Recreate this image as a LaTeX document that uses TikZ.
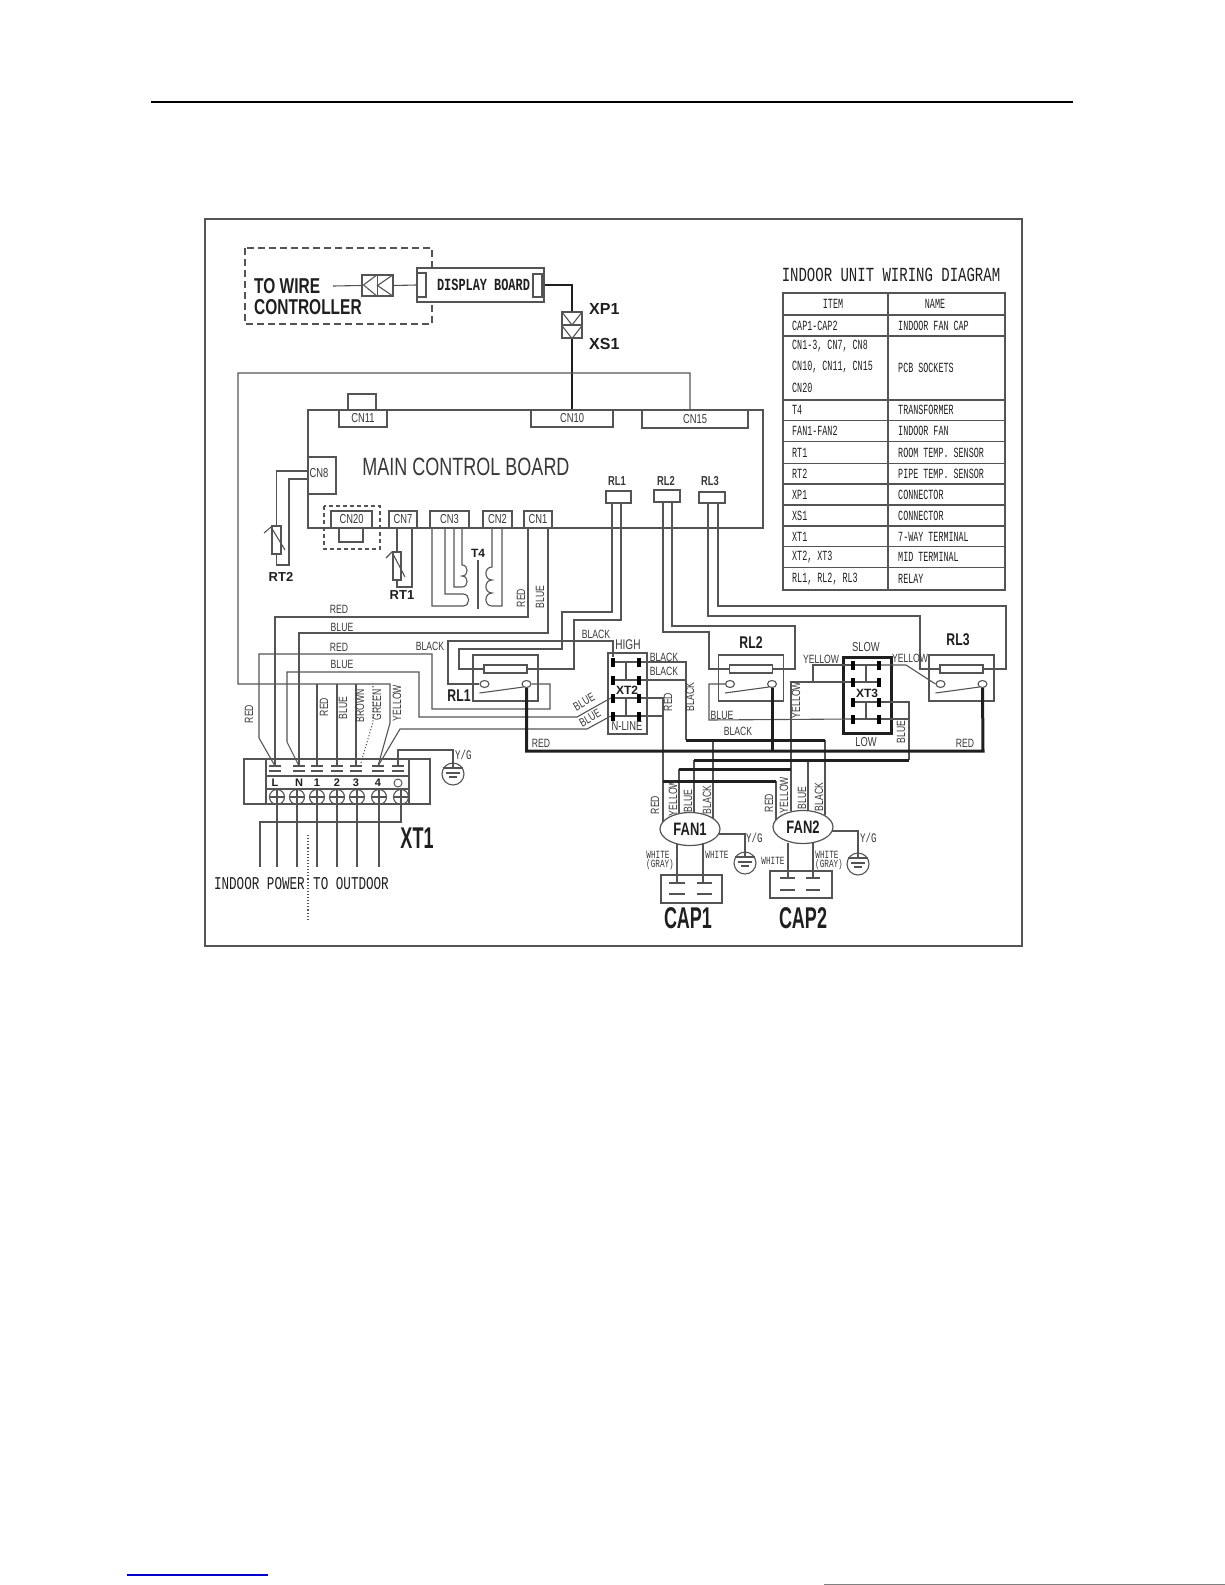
\documentclass[tikz,border=0pt]{standalone}
\usepackage{fontspec}
\usepackage{tikz}
\usepackage{xcolor}
\usetikzlibrary{calc}
\usetikzlibrary{shapes.geometric}
\setmainfont{Liberation Sans}
\newfontfamily\cadsans[FakeStretch=0.72]{Liberation Sans}
\newfontfamily\capsans[FakeStretch=0.6]{Liberation Sans}
\newfontfamily\cadmono[FakeStretch=0.7]{Liberation Mono}
\newfontfamily\tabmono[FakeStretch=0.6]{Liberation Mono}
\newcommand{\fsz}[1]{\fontsize{#1}{#1}\selectfont}
\definecolor{wirecol}{gray}{0.33}
\definecolor{buscol}{gray}{0.12}
\definecolor{txtcol}{gray}{0.22}
\tikzset{
  wire/.style={draw=wirecol,line width=1.1pt},
  bus/.style={draw=buscol,line width=3pt},
  box/.style={draw=wirecol,line width=1.1pt,inner sep=0pt,fill=white,text=txtcol,font=\cadsans\fsz{13}},
  lug/.style={fill=black,inner sep=0pt,minimum width=4pt,minimum height=9pt},
  contact/.style={ellipse,draw=wirecol,line width=1.1pt,fill=white,inner sep=0pt,minimum width=9pt,minimum height=7pt},
  screw/.style={circle,draw=wirecol,line width=1.1pt,inner sep=0pt,minimum size=15pt},
  gndring/.style={circle,draw=wirecol,line width=1.1pt,inner sep=0pt,minimum size=22pt},
  fan/.style={ellipse,draw=wirecol,line width=1.2pt,fill=white,inner sep=0pt,minimum width=60pt,minimum height=33pt,text=buscol,font=\cadsans\bfseries\fsz{18}},
  lbl/.style={inner sep=0pt,text=txtcol,font=\cadsans\fsz{12}},
  lblv/.style={lbl,rotate=90},
  lblw/.style={inner sep=0pt,text=txtcol,font=\cadmono\fsz{11}},
  lblg/.style={inner sep=0pt,anchor=west,text=txtcol,font=\cadmono\fsz{13}},
  lblm/.style={inner sep=0pt,text=buscol,font=\tabmono\fsz{14}},
  lblb/.style={inner sep=0pt,text=buscol,font=\bfseries\fsz{12}},
  lblr/.style={inner sep=0pt,text=buscol,font=\cadsans\bfseries\fsz{17}},
  lblc/.style={inner sep=0pt,text=buscol,font=\capsans\bfseries\fsz{30}},
  gndbars/.pic={
    \draw[wire] (-10,-6) -- (10,-6);
    \draw[wire] (-7,-1) -- (7,-1);
    \draw[wire] (-4,3) -- (4,3);
  }
}
\begin{document}
\begin{tikzpicture}[x=1pt,y=-1pt]
\useasboundingbox (0,0) rectangle (1225,1585);

\draw[black,line width=2pt] (151,102) -- (1073,102);
\draw[wirecol,line width=1.3pt] (205,219) rectangle (1022,946);
\draw[blue!80!black,line width=1.2pt] (127,1575) -- (268,1575);
\draw[gray,line width=1pt] (824,1584.5) -- (1225,1584.5);

\draw[wirecol,line width=1.1pt,dashed,dash pattern=on 7pt off 4pt] (245,248) rectangle (432,324);
\node[inner sep=0pt,anchor=west,text=buscol,font=\cadsans\bfseries\fsz{21.5}] (towire) at (254,286) {TO WIRE};
\node[inner sep=0pt,anchor=west,text=buscol,font=\cadsans\bfseries\fsz{21.5}] (wirectl) at (254,307) {CONTROLLER};
\coordinate (ctlend) at (333,286);
\node[box,minimum width=31pt,minimum height=21pt] (ctlconn) at (377.5,285.5) {};
\draw[wire] (ctlconn.north) -- (ctlconn.south);
\draw[wire] (ctlconn.north) -- ++(-14,10.5) -- (ctlconn.south);
\draw[wire] (ctlconn.north east) -- (ctlconn.center) -- (ctlconn.south east);
\node[box,minimum width=127pt,minimum height=34pt] (dispboard) at (480.5,285) {};
\node[box,minimum width=9pt,minimum height=24pt] (dispin) at (421.5,285) {};
\node[box,minimum width=9pt,minimum height=23pt] (dispout) at (537.5,285.5) {};
\node[inner sep=0pt,text=buscol,font=\cadmono\bfseries\fsz{17}] (disptxt) at (483.5,285) {DISPLAY BOARD};
\draw[wire] (ctlend) -- (ctlconn.west);
\draw[wire] (ctlconn.east) -- (dispin.west);

\node[box,minimum width=20pt,minimum height=26pt] (xpxs) at (572,325) {};
\draw[wire] (xpxs.west) -- (xpxs.east);
\draw[wire] (xpxs.north west) -- (xpxs.center) -- (xpxs.north east);
\draw[wire] (xpxs.west) -- (xpxs.south) -- (xpxs.east);
\node[inner sep=0pt,anchor=west,text=buscol,font=\bfseries\fsz{16}] (xp1) at (589,309) {XP1};
\node[inner sep=0pt,anchor=west,text=buscol,font=\bfseries\fsz{16}] (xs1) at (589,344) {XS1};

\node[box,minimum width=455pt,minimum height=118pt] (mainboard) at (535.5,469) {};
\node[inner sep=0pt,text=txtcol,font=\cadsans\fsz{25}] (boardtxt) at (466,467) {MAIN CONTROL BOARD};
\node[box,minimum width=28pt,minimum height=16pt] (cn11top) at (362,402) {};
\node[box,minimum width=48pt,minimum height=17pt] (cn11) at (363,418.5) {CN11};
\node[box,minimum width=82pt,minimum height=17pt] (cn10) at (572,418.5) {CN10};
\node[box,minimum width=106pt,minimum height=18pt] (cn15) at (695,419) {CN15};
\node[box,minimum width=28pt,minimum height=37pt] (cn8) at (322,475.5) {};
\node[inner sep=0pt,text=txtcol,font=\cadsans\fsz{13}] (cn8txt) at (319,473) {CN8};
\node[box,minimum width=41pt,minimum height=17pt] (cn20) at (351.5,519.5) {CN20};
\node[box,minimum width=24pt,minimum height=14pt] (cn20loop) at (351,535) {};
\draw[wirecol,line width=1.1pt,dashed,dash pattern=on 4pt off 3pt] (324,506) rectangle (380,549);
\node[box,minimum width=28pt,minimum height=17pt] (cn7) at (403,519.5) {CN7};
\node[box,minimum width=39pt,minimum height=17pt] (cn3) at (449.5,519.5) {CN3};
\node[box,minimum width=29pt,minimum height=17pt] (cn2) at (497.5,519.5) {CN2};
\node[box,minimum width=28pt,minimum height=17pt] (cn1) at (538,519.5) {CN1};
\node[box,minimum width=25pt,minimum height=12pt] (conrl1) at (618.5,497) {};
\node[box,minimum width=26pt,minimum height=12pt] (conrl2) at (667,496) {};
\node[box,minimum width=26pt,minimum height=11pt] (conrl3) at (712,497.5) {};
\node[lblb,font=\cadsans\bfseries\fsz{13},text=txtcol] (rl1txt) at (617,481) {RL1};
\node[lblb,font=\cadsans\bfseries\fsz{13},text=txtcol] (rl2txt) at (666,481) {RL2};
\node[lblb,font=\cadsans\bfseries\fsz{13},text=txtcol] (rl3txt) at (710,481) {RL3};
\draw[bus,line width=2.5pt] (dispboard.east) -| (xpxs.north);
\draw[bus,line width=2.5pt] (xpxs.south) -- (cn10.north);

\node[box,minimum width=9pt,minimum height=28pt] (rt2) at (276.5,540) {};
\node[box,minimum width=8pt,minimum height=28pt] (rt1) at (397,566) {};
\coordinate (cn8a) at (308,471);
\coordinate (cn8b) at (308,479);
\coordinate (cn7b) at (412,528);
\draw[wire] (cn8a) -| (rt2.north);
\draw[wire] (rt2.south) |- (289,565) |- (cn8b);
\draw[wire] (264,533) -- (271,527) -- (285,550);
\draw[wire] (cn7.south -| rt1.north) -- (rt1.north);
\draw[wire] (rt1.south) |- (412,587) -- (cn7b);
\draw[wire] (386,558) -- (392,552) -- (405,577);
\node[lblb,font=\bfseries\fsz{13}] (rt2txt) at (281,577) {RT2};
\node[lblb,font=\bfseries\fsz{13}] (rt1txt) at (402,595) {RT1};

\coordinate (cn3a) at (432,528);
\coordinate (cn3b) at (445,528);
\coordinate (cn3c) at (454,528);
\coordinate (cn3d) at (462,528);
\coordinate (cn2a) at (492,528);
\coordinate (cn2b) at (502,528);
\draw[wire] (cn3d) -- (462,565) to[out=0,in=0,looseness=1.6] (462,576) to[out=0,in=0,looseness=1.6] (462,587) -- (454,587) -- (cn3c);
\draw[wire] (cn3b) |- (463,594) to[out=0,in=0,looseness=1.6] (463,606) -| (cn3a);
\draw[wire] (cn2a) -- (492,567) to[out=180,in=180,looseness=1.6] (492,580) to[out=180,in=180,looseness=1.6] (492,593) to[out=180,in=180,looseness=1.6] (492,606) -| (cn2b);
\draw[wire] (478,560) -- (478,609);
\node[lblb] (t4txt) at (478,553) {T4};

\foreach \n/\xx/\sx in {L/275/277,N/299/297,1/317/317,2/337/337,3/356/357,4/378/379,E/398/401} {
  \coordinate (xt1top\n) at (\xx,766);
  \node[screw] (xt1s\n) at (\sx,797) {};
  \draw[wire] (xt1s\n.west) -- (xt1s\n.east);
  \draw[wire] (\xx-6,766) -- (\xx+6,766);
  \draw[wire] (\xx-6,771) -- (\xx+6,771);
}
\node[box,fill=none,minimum width=186pt,minimum height=45pt] (xt1) at (337,781.5) {};
\draw[wire] (266,759) -- (266,804);
\draw[wire] (409,759) -- (409,804);
\draw[wire] (266,776) -- (409,776);
\draw[wire] (266,789) -- (409,789);
\foreach \n/\xx/\tt in {L/275/L,N/299/N,1/317/1,2/337/2,3/356/3,4/378/4} {
  \node[lblb,font=\bfseries\fsz{11}] (xt1txt\n) at (\xx,783) {\tt};
}
\node[circle,draw=wirecol,line width=1pt,inner sep=0pt,minimum size=8pt] (xt1txtE) at (398,783) {};
\foreach \n in {L,N,1,2,3,4} {
  \coordinate (xt1end\n) at (xt1s\n |- 0,867);
  \draw[wire] (xt1s\n.north) -- (xt1end\n);
}
\coordinate (xt1endE) at (260,867);
\draw[wire] (xt1sE.north) -- (xt1sE.south) |- (260,822) -- (xt1endE);
\node[lblc] (xt1lbl) at (417,838) {XT1};
\node[inner sep=0pt,anchor=east,text=buscol,font=\cadmono\fsz{18}] (indoorpw) at (305,884) {INDOOR POWER};
\node[inner sep=0pt,anchor=west,text=buscol,font=\cadmono\fsz{18}] (tooutdoor) at (313,884) {TO OUTDOOR};
\coordinate (splita) at (308,835);
\coordinate (splitb) at (308,920);
\draw[wire,dotted] (splita) -- (splitb);

\node[gndring] (gnd0) at (453,774) {};
\pic at (gnd0) {gndbars};
\draw[wire] (xt1topE) -- (398,750) -| ([yshift=6pt]gnd0.center);
\node[lblg] (yg0) at (455,755) {Y/G};

\coordinate (cn1a) at (528,528);
\coordinate (cn1b) at (548,528);
\draw[wire] (cn1a) |- (275,617) -- (xt1topL);
\draw[wire] (cn1b) |- (299,633) -- (xt1topN);
\coordinate (cn15a) at (690,410);
\coordinate (cn15h) at (238,684);
\draw[wire] (cn15a) |- (238,373) -- (cn15h) -- (390,684) -- (390,723) -- (xt1top4);
\draw[wire] (xt1top1) -- (xt1top1 |- cn15h);
\draw[wire] (xt1top2) -- (xt1top2 |- cn15h);
\draw[wire] (xt1top3) -- (xt1top3 |- cn15h);
\draw[wire,dotted] ([xshift=4pt]xt1top3) -- (373,722) -- (373,684);

\foreach \n/\cx in {1/505.5,2/751,3/961.5} {
  \node[box,minimum width=65pt,minimum height=46pt] (rl\n box) at (\cx,678) {};
  \node[box,minimum width=43pt,minimum height=8pt] (rl\n coil) at (\cx,669) {};
  \node[contact] (rl\n a) at (\cx-21,684) {};
  \node[contact] (rl\n b) at (\cx+21,684) {};
  \draw[wire] (\cx-26,693) -- (\cx+18,687);
}
\node[lblr] (rl1lbl) at (459,696) {RL1};
\node[lblr] (rl2lbl) at (751,643) {RL2};
\node[lblr] (rl3lbl) at (958,640) {RL3};

\node[box,minimum width=39pt,minimum height=81pt] (xt2) at (627.5,693.5) {};
\node[box,line width=3pt,draw=buscol,minimum width=48pt,minimum height=76pt] (xt3) at (867,695) {};
\foreach \r/\yy in {1/662,2/680,3/698,4/716} {
  \node[lug] (xt2l\r) at (613,\yy) {};
  \node[lug] (xt2r\r) at (639,\yy) {};
  \draw[wire] (xt2l\r) -- (xt2r\r);
}
\foreach \r/\yy in {1/665,2/682,3/702,4/719} {
  \node[lug] (xt3l\r) at (853,\yy) {};
  \node[lug] (xt3r\r) at (879,\yy) {};
  \draw[wire] (xt3l\r) -- (xt3r\r);
}
\draw[wire] ($(xt2l1)!0.5!(xt2r1)$) -- ($(xt2l2)!0.5!(xt2r2)$);
\draw[wire] ($(xt2l3)!0.5!(xt2r3)$) -- ($(xt2l4)!0.5!(xt2r4)$);
\draw[wire] ($(xt3l1)!0.5!(xt3r1)$) -- ($(xt3l2)!0.5!(xt3r2)$);
\draw[wire] ($(xt3l3)!0.5!(xt3r3)$) -- ($(xt3l4)!0.5!(xt3r4)$);
\node[lblb,font=\bfseries\fsz{12}] (xt2txt) at (627,690) {XT2};
\node[lblb,font=\bfseries\fsz{12}] (xt3txt) at (867,693) {XT3};
\node[lbl,font=\cadsans\fsz{14}] (hightxt) at (628,645) {HIGH};
\node[lbl,font=\cadsans\fsz{13}] (nline) at (627,726) {N-LINE};
\node[lbl,font=\cadsans\fsz{13}] (slowtxt) at (866,647) {SLOW};
\node[lbl,font=\cadsans\fsz{13}] (lowtxt) at (866,742) {LOW};

\coordinate (rl1p) at (612,503);
\coordinate (rl1q) at (621,503);
\coordinate (rl2p) at (663,502);
\coordinate (rl2q) at (672,502);
\coordinate (rl3p) at (708,503);
\coordinate (rl3q) at (718,503);
\draw[wire] (rl1coil.west) -| (459,649) -| (562,612) -| (rl1p);
\draw[wire] (rl1coil.east) -| (574,620) -| (rl1q);
\draw[wire] (rl2coil.west) -| (709,632) -| (rl2p);
\draw[wire] (rl2coil.east) -| (795,626) -| (rl2q);
\draw[wire] (rl3coil.west) -| (920,616) -| (rl3p);
\draw[wire] (rl3coil.east) -| (1006,606) -| (rl3q);
\draw[wire] (rl1a.west) -| (448,641) -| (xt2l1.north);
\draw[wire] (rl1b.east) -| (550,709) -| (432,654) -| (259,738) -- (xt1topL);
\draw[wire] (xt2l3.west) -- (577,717) -| (419,672) -| (287,742) -- (xt1topN);
\draw[wire] (xt2l4.west) -- (587,729) -- (400,729) -- (xt1top4);
\draw[wire] (rl2a.west) -| (709,720) -- (xt3l4.west);
\draw[wire] (rl3a.west) -- (906,665) -- (xt3r1.east);

\node[fan] (fan1) at (690,829) {FAN1};
\node[fan] (fan2) at (803,827) {FAN2};
\coordinate (f1red) at (663,822);
\coordinate (f1yel) at (679,814);
\coordinate (f1blue) at (694,813);
\coordinate (f1black) at (713,819);
\coordinate (f2red) at (776,820);
\coordinate (f2yel) at (791,811);
\coordinate (f2blue) at (808,810);
\coordinate (f2black) at (825,815);

\coordinate (busBl) at (686,740);
\coordinate (busBm) at (713,740);
\coordinate (busBr) at (825,740);
\coordinate (busCl) at (694,760);
\coordinate (busCm) at (808,760);
\coordinate (busCr) at (909,760);
\coordinate (busDl) at (679,769);
\coordinate (busDr) at (791,769);
\coordinate (busEl) at (663,781);
\coordinate (busEr) at (776,781);
\coordinate (busAr) at (983,751);
\draw[wire] (xt2r1.east) -| (busBl);
\draw[wire] (xt2r2.east) -- (xt2r2 -| busBl);
\draw[wire] (xt2r3.east) -| (f1red);
\draw[wire] (xt2r4.east) -- (xt2r4 -| f1red);
\draw[wire] (xt3r3.east) -| (busCr);
\draw[wire] (xt3r4.east) -- (xt3r4 -| busCr);
\draw[wire] (xt3l2.west) -| (f2yel);
\draw[wire] (xt3l1.west) -| (813,682);
\draw[wire] (busBm) -- (f1black);
\draw[wire] (busBr) -- (f2black);
\draw[wire] (busCl) -- (f1blue);
\draw[wire] (busCm) -- (f2blue);
\draw[wire] (busDl) -- (f1yel);
\draw[wire] (busEr) -- (f2red);
\draw[bus] (rl1b.south) |- (busAr) -- (rl3b.south);
\draw[bus] (rl2b.south) -- (rl2b |- busAr);
\draw[bus] (busBl) -- (busBr);
\draw[bus] (busCl) -- (busCr);
\draw[bus] (busDl) -- (busDr);
\draw[bus] (busEl) -- (busEr);

\node[gndring] (gnd1) at (745,863) {};
\node[gndring] (gnd2) at (858,864) {};
\pic at (gnd1) {gndbars};
\pic at (gnd2) {gndbars};
\coordinate (fan1g) at (719,834);
\coordinate (fan2g) at (832,831);
\draw[wire] (fan1g) -| ([yshift=6pt]gnd1.center);
\draw[wire] (fan2g) -| ([yshift=6pt]gnd2.center);
\node[lblg] (yg1) at (746,838) {Y/G};
\node[lblg] (yg2) at (860,838) {Y/G};

\node[box,minimum width=61pt,minimum height=28pt] (cap1) at (691.5,889) {};
\node[box,minimum width=62pt,minimum height=27pt] (cap2) at (801,884.5) {};
\coordinate (f1wa) at (677,844);
\coordinate (f1wb) at (703,843);
\coordinate (f2wa) at (788,843);
\coordinate (f2wb) at (813,842);
\coordinate (c1a) at (677,883);
\coordinate (c1b) at (703,883);
\coordinate (c2a) at (788,878);
\coordinate (c2b) at (813,878);
\draw[wire] (f1wa) -- (c1a);
\draw[wire] (f1wb) -- (c1b);
\draw[wire] (f2wa) -- (c2a);
\draw[wire] (f2wb) -- (c2b);
\draw[wire] (669,883) -- (685,883);
\draw[wire] (669,894) -- (685,894);
\draw[wire] (697,883) -- (712,883);
\draw[wire] (697,894) -- (712,894);
\draw[wire] (780,878) -- (795,878);
\draw[wire] (780,890) -- (795,890);
\draw[wire] (806,878) -- (820,878);
\draw[wire] (806,890) -- (820,890);
\node[lblc,font=\capsans\bfseries\fsz{30}] (cap1lbl) at (688,918) {CAP1};
\node[lblc,font=\capsans\bfseries\fsz{30}] (cap2lbl) at (803,918) {CAP2};

\node[lblv] (rCN1) at (521,598) {RED};
\node[lblv] (bCN1) at (540,597) {BLUE};
\node[lbl] (r1) at (339,609) {RED};
\node[lbl] (b1) at (342,627) {BLUE};
\node[lbl] (r2) at (339,647) {RED};
\node[lbl] (b2) at (342,664) {BLUE};
\node[lbl] (k1) at (430,646) {BLACK};
\node[lblv] (r3) at (249,714) {RED};
\node[lblv] (r4) at (324,707) {RED};
\node[lblv] (b4) at (343,708) {BLUE};
\node[lblv] (br4) at (360,706) {BROWN};
\node[lblv] (g4) at (377,705) {GREEN};
\node[lblv] (y4) at (397,703) {YELLOW};
\node[lbl] (k2) at (596,634) {BLACK};
\node[lbl] (k3) at (664,657) {BLACK};
\node[lbl] (k4) at (664,671) {BLACK};
\node[lblv] (k5) at (690,697) {BLACK};
\node[lblv] (r5) at (668,702) {RED};
\node[lbl,rotate=30] (b5) at (584,702) {BLUE};
\node[lbl,rotate=30] (b6) at (590,718) {BLUE};
\node[lbl] (r6) at (541,743) {RED};
\node[lbl] (b7) at (722,715) {BLUE};
\node[lbl] (k6) at (738,731) {BLACK};
\node[lblv] (y5) at (796,700) {YELLOW};
\node[lbl] (y6) at (821,659) {YELLOW};
\node[lbl] (y7) at (910,658) {YELLOW};
\node[lblv] (b8) at (901,732) {BLUE};
\node[lbl] (r7) at (965,743) {RED};
\node[lblv] (r8) at (655,805) {RED};
\node[lblv] (y8) at (673,798) {YELLOW};
\node[lblv] (b9) at (688,801) {BLUE};
\node[lblv] (k7) at (707,800) {BLACK};
\node[lblv] (r9) at (769,803) {RED};
\node[lblv] (y9) at (784,795) {YELLOW};
\node[lblv] (b10) at (802,798) {BLUE};
\node[lblv] (k8) at (819,797) {BLACK};
\node[lblw] (w1) at (658,855) {WHITE};
\node[lblw] (gy1) at (660,865) {(GRAY)};
\node[lblw] (w2) at (717,855) {WHITE};
\node[lblw] (w3) at (773,861) {WHITE};
\node[lblw] (w4) at (827,855) {WHITE};
\node[lblw] (gy2) at (829,865) {(GRAY)};

\node[inner sep=0pt,text=buscol,font=\cadmono\fsz{20}] (tabletitle) at (891,275) {INDOOR UNIT WIRING DIAGRAM};
\draw[wirecol,line width=1.2pt] (783,293) rectangle (1005,590);
\draw[wirecol,line width=1.2pt] (888,293) -- (888,590);
\foreach \yy in {315,336,400,420.7,441.7,463.3,484,505,526,546.7,567.7} {
  \draw[wirecol,line width=1.2pt] (783,\yy) -- (1005,\yy);
}
\node[lblm] (itemhd) at (833,304) {ITEM};
\node[lblm] (namehd) at (935,304) {NAME};
\foreach \yy/\aa/\bb [count=\k] in {325.5/CAP1-CAP2/INDOOR FAN CAP,410/T4/TRANSFORMER,431/FAN1-FAN2/INDOOR FAN,452.5/RT1/ROOM TEMP. SENSOR,473.5/RT2/PIPE TEMP. SENSOR,494.5/XP1/CONNECTOR,515.5/XS1/CONNECTOR,536.5/XT1/7-WAY TERMINAL,557/{XT2, XT3}/MID TERMINAL,579/{RL1, RL2, RL3}/RELAY} {
  \node[lblm,anchor=west] (itm\k) at (792,\yy) {\aa};
  \node[lblm,anchor=west] (nam\k) at (898,\yy) {\bb};
}
\node[lblm,anchor=west] (itmcna) at (792,346) {CN1-3, CN7, CN8};
\node[lblm,anchor=west] (itmcnb) at (792,367) {CN10, CN11, CN15};
\node[lblm,anchor=west] (itmcnc) at (792,388) {CN20};
\node[lblm,anchor=west] (namcn) at (898,368) {PCB SOCKETS};

\end{tikzpicture}
\end{document}
